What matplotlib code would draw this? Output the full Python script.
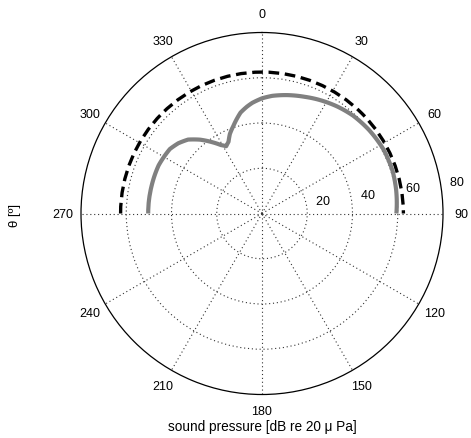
import numpy as np
import matplotlib
matplotlib.use("Agg")
import matplotlib.pyplot as plt

# measured directivity (degrees clockwise from front, dB re 20 uPa)
theta_deg = [-90, -76, -65, -55, -50, -45, -40, -35, -31, -28, -25, -22, -18,
             -15, -12, -8, -5, 0, 5, 12, 20, 26, 35, 43, 52, 62, 72, 80, 90]
spl_meas = [50.3, 50.3, 50.4, 49.7, 48.3, 46.2, 42.6, 38.5, 35.3, 33.7, 35.0,
            37.9, 40.8, 43.2, 45.6, 47.7, 49.1, 50.9, 52.2, 53.5, 54.9, 56.1,
            57.8, 59.1, 60.0, 60.7, 60.7, 60.2, 59.4]

# reference level (dashed)
ref_theta = [-90, 90]
ref_level = 62.5

r_max = 80
ring_ticks = [20, 40, 60, 80]
theta_ticks = list(range(0, 360, 30))

plt.rcParams['font.family'] = ['Liberation Sans', 'DejaVu Sans']

fig = plt.figure(figsize=(4.71, 4.39), dpi=100)
ax = fig.add_axes([81 / 471, 43.5 / 439, 362 / 471, 362 / 439], projection='polar')
ax.set_theta_zero_location('N')
ax.set_theta_direction(-1)
ax.set_ylim(0, r_max)

# grid
ax.set_xticks(np.deg2rad(theta_ticks))
ax.set_xticklabels([])
ax.set_yticks(ring_ticks[:-1])
ax.set_yticklabels([])
ax.grid(True, color='0.2', linestyle=(0, (1, 2.5)), linewidth=0.8)
ax.spines['polar'].set_linewidth(0.9)
ax.spines['polar'].set_color('black')
ax.tick_params(length=0)

# theta labels
for t in theta_ticks:
    ax.text(np.deg2rad(t), 1.1 * r_max - (0.8 if t == 180 else 0), str(t),
            ha='center', va='center', fontsize=9, clip_on=False)

# ring labels
for r in ring_ticks:
    ax.text(np.deg2rad(82), r + 1, '  ' + str(r), ha='left', va='bottom',
            fontsize=9, clip_on=False)

# curves (smooth arcs between points)
ref_line, = ax.plot(np.deg2rad(ref_theta), [ref_level, ref_level], color='black',
                    linewidth=2.4, dashes=(3.2, 1.7))
ref_line.get_path()._interpolation_steps = 180
meas_line, = ax.plot(np.deg2rad(theta_deg), spl_meas, color='#808080',
                     linewidth=3, solid_capstyle='butt')
meas_line.get_path()._interpolation_steps = 20

fig.text(262 / 471, 1 - 427 / 439, 'sound pressure [dB re 20 \u03bc Pa]',
         ha='center', va='center', fontsize=9.8)
fig.text(15 / 471, 1 - 215 / 439, '\u03b8 [\u00ba]', ha='center', va='center',
         rotation=90, fontsize=9.5)

fig.savefig('out.png', dpi=100)
